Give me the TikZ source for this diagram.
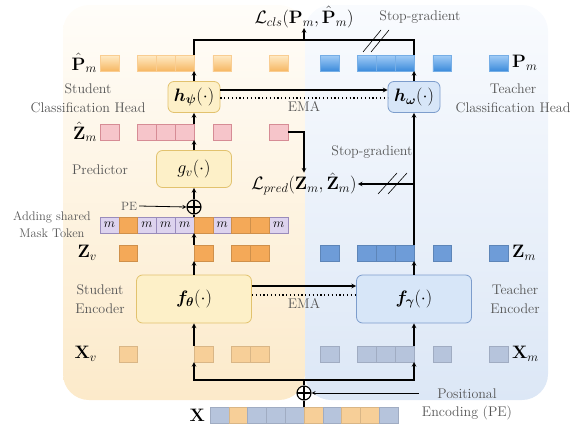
\RequirePackage{fix-cm}
\documentclass[tikz,border=0pt]{standalone}
\usepackage{amsmath}
\usepackage{xcolor}
\definecolor{StuFill}{HTML}{FDF0C8}
\definecolor{StuDraw}{HTML}{E2C26E}
\definecolor{TeaFill}{HTML}{D7E6F8}
\definecolor{TeaDraw}{HTML}{7D9DCC}
\definecolor{StuBgTop}{HTML}{FFFDF9}
\definecolor{StuBgBot}{HTML}{FCEACA}
\definecolor{TeaBgTop}{HTML}{F9FBFE}
\definecolor{TeaBgBot}{HTML}{DCE7F6}
\definecolor{LabelGrey}{HTML}{555555}
\definecolor{PhTop}{HTML}{FFEBC6}
\definecolor{PhBot}{HTML}{F6B763}
\definecolor{PmTop}{HTML}{A3CDF7}
\definecolor{PmBot}{HTML}{3C8BDB}
\definecolor{ZhFill}{HTML}{F6C5CA}
\definecolor{ZhDraw}{HTML}{D68C95}
\definecolor{ZvFill}{HTML}{F4A958}
\definecolor{ZmFill}{HTML}{6E9CD8}
\definecolor{XvFill}{HTML}{F7CF98}
\definecolor{XmFill}{HTML}{B6C4DC}
\definecolor{MaskFill}{HTML}{DDD3EE}
\definecolor{MaskDraw}{HTML}{9A8CBB}
\usepackage{tikz}
\usetikzlibrary{arrows, positioning, calc, backgrounds}
\tikzstyle{block} = [rectangle, rounded corners=6pt, line width=0.8pt, text centered, font=\fontsize{18}{20}\selectfont]
\tikzstyle{stu} = [fill=StuFill, draw=StuDraw]
\tikzstyle{tea} = [fill=TeaFill, draw=TeaDraw]
\tikzstyle{cell} = [rectangle, minimum width=18.8pt, minimum height=16pt, inner sep=0pt, outer sep=0pt, line width=0.4pt]
\tikzstyle{phat} = [cell, top color=PhTop, bottom color=PhBot, draw=PhBot!70!white]
\tikzstyle{pm} = [cell, top color=PmTop, bottom color=PmBot, draw=PmBot!70!white]
\tikzstyle{zhat} = [cell, fill=ZhFill, draw=ZhDraw]
\tikzstyle{zv} = [cell, fill=ZvFill, draw=ZvFill!85!black]
\tikzstyle{zm} = [cell, fill=ZmFill, draw=ZmFill!85!black]
\tikzstyle{xv} = [cell, fill=XvFill, draw=XvFill!88!black]
\tikzstyle{xm} = [cell, fill=XmFill, draw=XmFill!88!black]
\tikzstyle{masktok} = [cell, fill=MaskFill, draw=MaskDraw, font=\fontsize{13}{13}\selectfont]
\tikzstyle{lbl} = [text=LabelGrey, align=center, inner sep=0pt, font=\fontsize{14}{19}\selectfont]
\tikzstyle{mlbl} = [inner sep=0pt, font=\fontsize{18}{20}\selectfont]
\tikzstyle{addsym} = [circle, draw, line width=1.1pt, minimum size=14pt, inner sep=0pt,
  path picture={\draw[line width=1.1pt] (path picture bounding box.north) -- (path picture bounding box.south)
  (path picture bounding box.west) -- (path picture bounding box.east);}]
\tikzstyle{arrow} = [line width=1.1pt,->,>=stealth]
\tikzstyle{line} = [line width=1.1pt]
\tikzstyle{slash} = [line width=0.6pt]

\begin{document}
\begin{tikzpicture}[x=1pt, y=-1pt]
  \useasboundingbox (0,0) rectangle (584,434);

  % --- panels ---
  \shade [top color=StuBgTop, bottom color=StuBgBot, rounded corners=26pt] (63,5) rectangle (305,400);
  \shade [top color=TeaBgTop, bottom color=TeaBgBot, rounded corners=26pt] (305,5) rectangle (548,400);

  % --- student rows ---
  \foreach \i in {0,2,3,4,6,9} {
    \node [phat] (ph\i) at (109.4+18.8*\i, 63) {};
    \node [zhat] (zh\i) at (109.4+18.8*\i, 132) {};
    \node [masktok] (mk\i) at (109.4+18.8*\i, 225) {$m$};
  }
  \foreach \i in {1,5,7,8} {
    \node [zv] (mk\i) at (109.4+18.8*\i, 225) {};
    \node [zv] (zv\i) at (109.4+18.8*\i, 253) {};
    \node [xv] (xv\i) at (109.4+18.8*\i, 354) {};
  }

  % --- teacher rows ---
  \foreach \i in {0,2,3,4,6,9} {
    \node [pm] (pm\i) at (329.4+18.8*\i, 63) {};
    \node [zm] (zm\i) at (329.4+18.8*\i, 253) {};
    \node [xm] (xm\i) at (329.4+18.8*\i, 354) {};
  }

  % --- input sequence ---
  \foreach \i/\c in {0/xm,1/xv,2/xm,3/xm,4/xm,5/xv,6/xm,7/xv,8/xv,9/xm} {
    \node [\c] (xs\i) at (219.4+18.8*\i, 415) {};
  }

  % --- networks ---
  \node [block, stu, minimum width=52pt, minimum height=31pt] (hpsi) at (194,97) {$\boldsymbol{h_\psi}(\cdot)$};
  \node [block, tea, minimum width=52pt, minimum height=31pt] (homega) at (414,97) {$\boldsymbol{h_\omega}(\cdot)$};
  \node [block, stu, minimum width=75pt, minimum height=37pt] (gv) at (194,169) {$g_v(\cdot)$};
  \node [block, stu, minimum width=115pt, minimum height=48pt] (fth) at (194,299) {$\boldsymbol{f_\theta}(\cdot)$};
  \node [block, tea, minimum width=115pt, minimum height=48pt] (fga) at (414,299) {$\boldsymbol{f_\gamma}(\cdot)$};
  \node [addsym] (addpe) at (194,207) {};
  \node [addsym] (addx) at (304,393) {};

  % --- losses ---
  \node [mlbl] (lcls) at (304,17) {$\mathcal{L}_{cls}(\mathbf{P}_m,\hat{\mathbf{P}}_m)$};
  \node [mlbl] (lpred) at (304,184) {$\mathcal{L}_{pred}(\mathbf{Z}_m,\hat{\mathbf{Z}}_m)$};

  % --- row labels ---
  \node [mlbl, anchor=east] (phlbl) at (97,63) {$\hat{\mathbf{P}}_m$};
  \node [mlbl, anchor=east] (zhlbl) at (97,132) {$\hat{\mathbf{Z}}_m$};
  \node [mlbl, anchor=east] (zvlbl) at (97,253) {$\mathbf{Z}_v$};
  \node [mlbl, anchor=east] (xvlbl) at (97,354) {$\mathbf{X}_v$};
  \node [mlbl, anchor=west] (pmlbl) at (512,63) {$\mathbf{P}_m$};
  \node [mlbl, anchor=west] (zmlbl) at (512,253) {$\mathbf{Z}_m$};
  \node [mlbl, anchor=west] (xmlbl) at (512,354) {$\mathbf{X}_m$};
  \node [mlbl, anchor=east] (xlbl) at (205,415) {$\mathbf{X}$};

  % --- text labels ---
  \node [lbl] (stuhead) at (88,98) {Student\\Classification Head};
  \node [lbl] (teahead) at (513,98) {Teacher\\Classification Head};
  \node [lbl] (predlbl) at (100,170) {Predictor};
  \node [lbl] (stuenc) at (100,299) {Student\\Encoder};
  \node [lbl] (teaenc) at (515,299) {Teacher\\Encoder};
  \node [lbl, font=\fontsize{12.5}{17}\selectfont] (masklbl) at (52,225) {Adding shared\\Mask Token};
  \node [lbl, font=\fontsize{12}{14}\selectfont] (pelbl) at (129,206) {PE};
  \node [lbl, font=\fontsize{14}{18}\selectfont] (poslbl) at (467,404) {Positional\\Encoding (PE)};
  \node [lbl] (sgtoplbl) at (420,17) {Stop-gradient};
  \node [lbl] (sgmidlbl) at (372,152) {Stop-gradient};

  % --- input to encoders ---
  \coordinate (split) at (304,380);
  \draw [line] (xs4.north east) -- (addx.south);
  \draw [arrow, line width=0.8pt] ([xshift=-3pt]poslbl.west |- addx) -- (addx.east);
  \draw [arrow] (addx.north) -- (split) -| (xv5.south west);
  \draw [arrow] (split) -| (xm4.south east);

  % --- student branch ---
  \draw [arrow] (xv5.north west) -- (fth.south);
  \draw [arrow] (fth.north) -- (zv5.south west);
  \draw [arrow] (zv5.north west) -- (mk5.south west);
  \draw [line] (mk5.north west) -- (addpe.south);
  \draw [arrow, line width=0.8pt] ([xshift=2pt]pelbl.east) -- (addpe.west);
  \draw [arrow] (addpe.north) -- (gv.south);
  \draw [arrow] (gv.north) -- (zh4.south east);
  \draw [arrow] (zh4.north east) -- (hpsi.south);
  \draw [arrow] (hpsi.north) -- (ph4.south east);

  % --- teacher branch ---
  \draw [arrow] (xm4.north east) -- (fga.south);
  \draw [arrow] (fga.north) -- (zm4.south east);
  \draw [arrow] (zm4.north east) -- (homega.south);
  \draw [arrow] (homega.north) -- (pm4.south east);

  % --- EMA updates ---
  \draw [arrow] ([yshift=7pt]hpsi.east) -- ([yshift=7pt]homega.west);
  \draw [line, dash pattern=on 1.2pt off 2.6pt] ([yshift=-1pt]hpsi.east) -- node [lbl, below=3pt] (emahead) {EMA} ([yshift=-1pt]homega.west);
  \draw [arrow] ([yshift=13pt]fth.east) -- ([yshift=13pt]fga.west);
  \draw [line, dash pattern=on 1.2pt off 2.6pt] ([yshift=4pt]fth.east) -- node [lbl, below=3pt] (emaenc) {EMA} ([yshift=4pt]fga.west);

  % --- losses ---
  \coordinate (clsjoin) at (304,40);
  \draw [line] (ph4.north east) |- (clsjoin) -| (pm4.north east);
  \draw [arrow] (clsjoin) -- (lcls.south);
  \draw [arrow] (zh9.east) -| (lpred.north);
  \draw [arrow] (homega.south |- lpred.east) -- ([xshift=1pt]lpred.east);

  % stop-gradient marks
  \coordinate (sgtop) at (371,41);
  \draw [slash] ($(sgtop)+(-8,11)$) -- ++(18,-22);
  \draw [slash] ($(sgtop)+(0,11)$) -- ++(18,-22);
  \coordinate (sgmid) at (388,184);
  \draw [slash] ($(sgmid)+(-10,10)$) -- ++(19,-21);
  \draw [slash] ($(sgmid)+(0,10)$) -- ++(19,-21);
\end{tikzpicture}
\end{document}
